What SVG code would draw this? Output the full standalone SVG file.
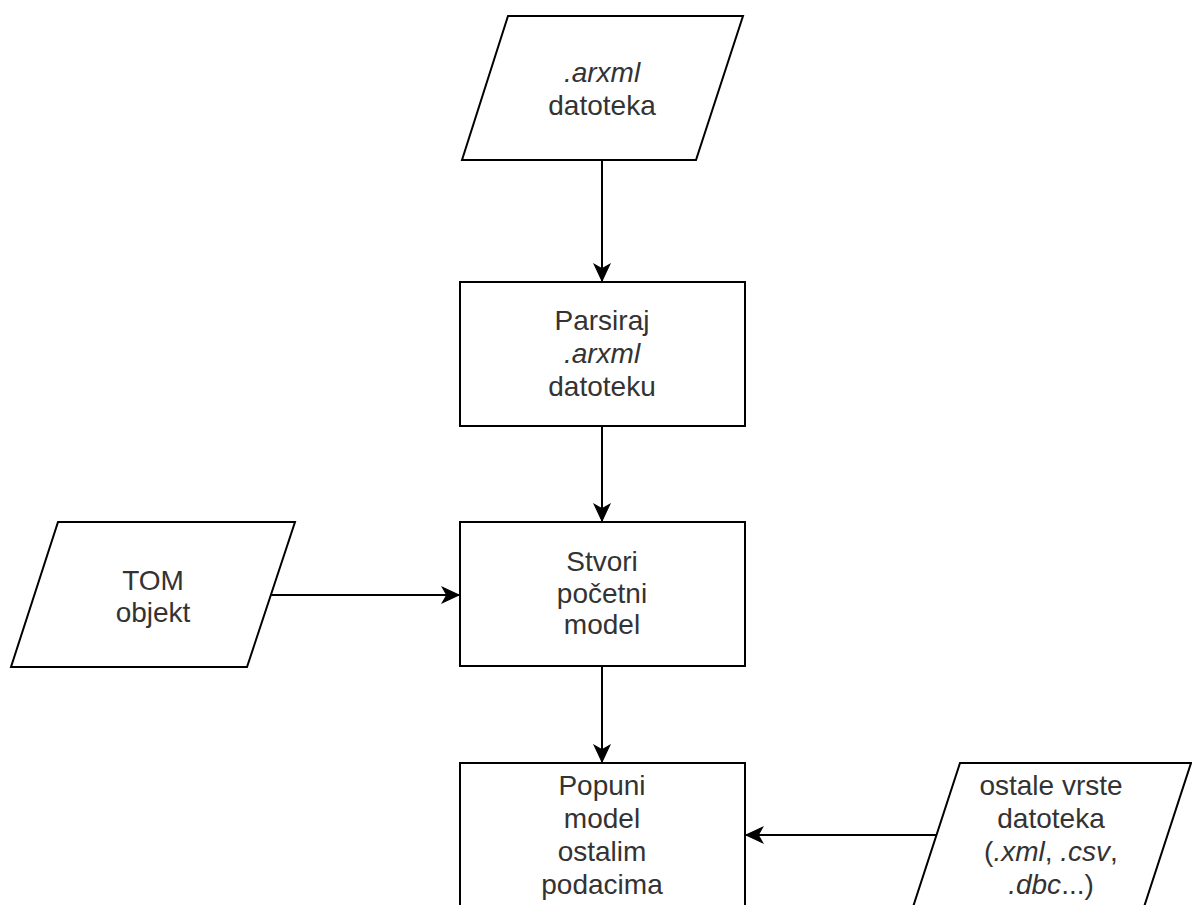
<svg xmlns="http://www.w3.org/2000/svg" width="1192" height="905" viewBox="0 0 1192 905">
<style>
.shape{fill:#ffffff;stroke:#000000;stroke-width:2}
.edge{fill:none;stroke:#000000;stroke-width:2}
.lbl{font-family:"Liberation Sans",Arial,sans-serif;font-size:28px;fill:#333333;text-anchor:middle}
.it{font-style:italic}
</style>
<defs>
<marker id="arrow" markerUnits="userSpaceOnUse" markerWidth="20" markerHeight="20" viewBox="-16 -8 18 16" refX="0" refY="0" orient="auto">
<path d="M0,0 L-15,-7 L-11,0 L-15,7 Z" fill="#000000" stroke="#000000" stroke-width="1"/>
</marker>
</defs>
<rect width="1192" height="905" fill="#ffffff"/>
<g id="connectors">
<line class="edge" x1="602" y1="160" x2="602" y2="281" marker-end="url(#arrow)"/>
<line class="edge" x1="602" y1="426" x2="602" y2="521" marker-end="url(#arrow)"/>
<line class="edge" x1="602" y1="666" x2="602" y2="762" marker-end="url(#arrow)"/>
<line class="edge" x1="271" y1="595" x2="459" y2="595" marker-end="url(#arrow)"/>
<line class="edge" x1="937" y1="835" x2="746" y2="835" marker-end="url(#arrow)"/>
</g>
<g id="arxml-file">
<polygon class="shape" points="508,16 743,16 696,160 462,160"/>
<text class="lbl" x="602" y="82"><tspan class="it">.arxml</tspan></text>
<text class="lbl" x="602" y="115">datoteka</text>
</g>
<g id="parse">
<rect class="shape" x="460" y="282" width="285" height="144"/>
<text class="lbl" x="602" y="330">Parsiraj</text>
<text class="lbl" x="602" y="363"><tspan class="it">.arxml</tspan></text>
<text class="lbl" x="602" y="396">datoteku</text>
</g>
<g id="create-model">
<rect class="shape" x="460" y="522" width="285" height="144"/>
<text class="lbl" x="602" y="571">Stvori</text>
<text class="lbl" x="602" y="603">početni</text>
<text class="lbl" x="602" y="634">model</text>
</g>
<g id="tom-object">
<polygon class="shape" points="58,522 295,522 247,667 11,667"/>
<text class="lbl" x="153" y="590">TOM</text>
<text class="lbl" x="153" y="622">objekt</text>
</g>
<g id="fill-model">
<rect class="shape" x="460" y="763" width="285" height="160"/>
<text class="lbl" x="602" y="795">Popuni</text>
<text class="lbl" x="602" y="828">model</text>
<text class="lbl" x="602" y="861">ostalim</text>
<text class="lbl" x="602" y="894">podacima</text>
</g>
<g id="other-files">
<polygon class="shape" points="960,763 1191,763 1144,907 913,907"/>
<text class="lbl" x="1051" y="795">ostale vrste</text>
<text class="lbl" x="1051" y="828">datoteka</text>
<text class="lbl" x="1051" y="861">(<tspan class="it">.xml</tspan>, <tspan class="it">.csv</tspan>,</text>
<text class="lbl" x="1051" y="894"><tspan class="it">.dbc</tspan>...)</text>
</g>
</svg>
